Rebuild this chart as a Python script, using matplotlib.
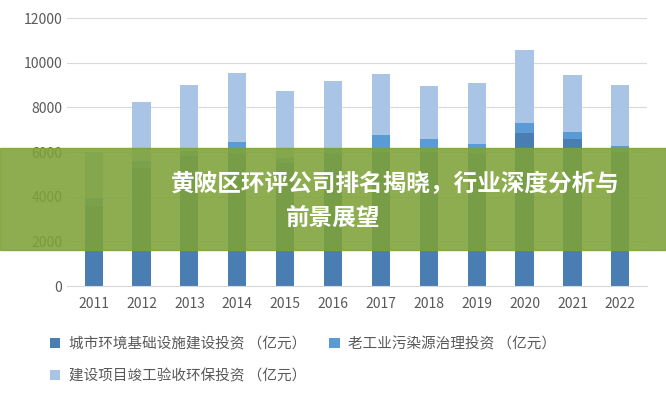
import matplotlib
matplotlib.use("Agg")
import matplotlib.pyplot as plt
from matplotlib.patches import Rectangle

plt.rcParams['font.family'] = ['Noto Sans CJK SC', 'DejaVu Sans']

years = ['2011','2012','2013','2014','2015','2016','2017','2018','2019','2020','2021','2022']
urban = [3600, 5300, 5800, 5900, 5500, 5900, 6000, 6000, 5900, 6830, 6560, 6000]
industrial = [350, 300, 250, 530, 250, 300, 740, 560, 480, 450, 320, 250]
construction = [2030, 2620, 2940, 3100, 2970, 2970, 2740, 2380, 2710, 3280, 2570, 2740]
series_names = ['城市环境基础设施建设投资 （亿元）', '老工业污染源治理投资 （亿元）', '建设项目竣工验收环保投资 （亿元）']
title = '黄陂区环评公司排名揭晓，行业深度分析与'
title2 = '前景展望'

fig = plt.figure(figsize=(6.66, 4.0), dpi=100)
ax = fig.add_axes([0.101, 0.285, 0.87, 0.67])
x = range(len(years))
w = 0.38
b1 = ax.bar(x, urban, w, color='#4a7db1', label=series_names[0], zorder=2)
b2 = ax.bar(x, industrial, w, bottom=urban, color='#5b9bd5', label=series_names[1], zorder=2)
bot = [u + i for u, i in zip(urban, industrial)]
b3 = ax.bar(x, construction, w, bottom=bot, color='#a9c4e4', label=series_names[2], zorder=2)
ax.set_ylim(0, 12000)
ax.set_xlim(-0.55, len(years) - 0.45)
ax.set_yticks(range(0, 12001, 2000))
ax.set_xticks(list(x))
ax.set_xticklabels(years)
ax.grid(axis='y', color='#d9d9d9', lw=0.8, zorder=0)
for s in ['top', 'right', 'left']:
    ax.spines[s].set_visible(False)
ax.spines['bottom'].set_color('#d9d9d9')
ax.tick_params(length=0, colors='#595959', labelsize=10)
ax.tick_params(axis='x', pad=8)

fig.legend(handles=[b1, b3, b2], loc='upper left', bbox_to_anchor=(0.055, 0.19), ncol=2,
           frameon=False, fontsize=10.5, labelcolor='#595959', handlelength=0.7, handleheight=0.7,
           columnspacing=1.6, handletextpad=0.6, labelspacing=1.2)

fig.patches.append(Rectangle((0, 0.375), 1, 0.255, transform=fig.transFigure,
                             color='#7fa238', alpha=0.88, zorder=5))
fig.text(0.593, 0.54, title, ha='center', va='center', color='white', fontsize=17,
         fontweight='heavy', zorder=6)
fig.text(0.5, 0.455, title2, ha='center', va='center', color='white', fontsize=17,
         fontweight='heavy', zorder=6)
fig.savefig('out.png', dpi=100)
